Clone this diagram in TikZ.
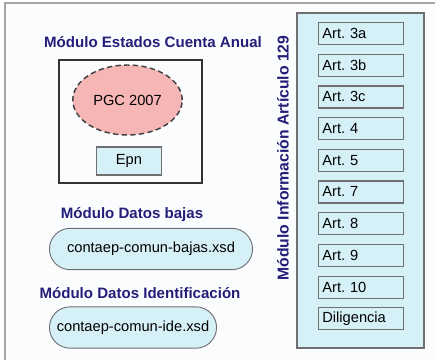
\documentclass[tikz,border=0pt]{standalone}
\usepackage{fontspec}
\setmainfont{Liberation Sans}
\usetikzlibrary{shapes.geometric,shapes.misc}
\definecolor{titleblue}{RGB}{35,30,120}
\definecolor{paleblue}{RGB}{214,240,247}
\definecolor{palered}{RGB}{246,182,182}
\definecolor{boxgray}{RGB}{112,112,112}
\definecolor{pagetint}{RGB}{251,252,254}
\frenchspacing
\tikzset{
  modtitle/.style={text=titleblue,font=\bfseries\fontsize{11.3}{13}\selectfont},
  plain/.style={font=\fontsize{11}{13}\selectfont},
  artbox/.style={plain,draw=boxgray,fill=paleblue,line width=0.9pt,
    minimum width=63.75pt,minimum height=16.5pt,text width=58pt,align=left,inner sep=2pt},
  xsdpill/.style={plain,rounded rectangle,draw=boxgray,fill=paleblue,line width=0.7pt,
    minimum height=31pt}
}
\begin{document}
\begin{tikzpicture}[x=0.75pt,y=-0.75pt]
\useasboundingbox (0,0) rectangle (435,360);
\clip (0,0) rectangle (435,360);
\fill[white] (0,0) rectangle (435,360);
\draw[fill=pagetint,draw=black!35,line width=1.1pt] (5,3) rectangle (440,365);

% cuenta anual
\node[modtitle] (tanual) at (153,42) {Módulo Estados Cuenta Anual};
\draw[draw=black!80,line width=0.8pt] (59,60) rectangle (202,183);
\node[plain,ellipse,draw=black!75,dash pattern=on 4pt off 2.5pt,line width=1.1pt,fill=palered,
  minimum width=81.75pt,minimum height=52.5pt] (pgc) at (127.5,100) {PGC 2007};
\node[plain,draw=boxgray,fill=paleblue,line width=1pt,
  minimum width=48.75pt,minimum height=21pt] (epn) at (129,161) {Epn};

% bajas e identificacion
\node[modtitle] (tbajas) at (132,215) {Módulo Datos bajas};
\node[xsdpill,minimum width=159pt] (bajas) at (151,249) {contaep-comun-bajas.xsd};
\node[modtitle] (tide) at (140,293) {Módulo Datos Identificación};
\node[xsdpill,minimum width=132pt] (ide) at (133,327.5) {contaep-comun-ide.xsd};

% articulo 129
\node[modtitle,rotate=90,font=\bfseries\fontsize{11.8}{13}\selectfont] (t129) at (283,158) {Módulo Información Artículo 129};
\draw[draw=boxgray,fill=paleblue,line width=0.9pt] (297,13) rectangle (424,348);
\foreach \lbl [count=\i] in {Art. 3a,Art. 3b,Art. 3c,Art. 4,Art. 5,Art. 7,Art. 8,Art. 9,Art. 10,Diligencia}
  \node[artbox] (art\i) at (361,{33.5+31.7*(\i-1)}) {\lbl};
\end{tikzpicture}
\end{document}
